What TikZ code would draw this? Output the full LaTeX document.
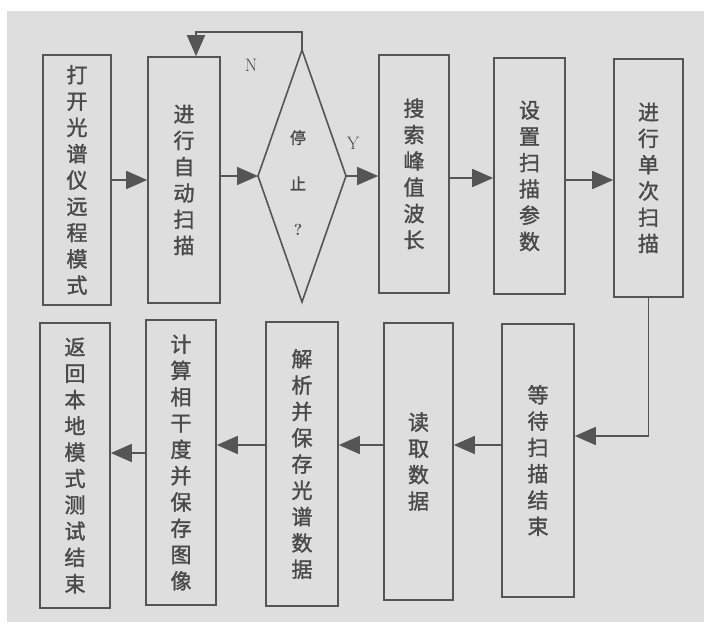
\documentclass[tikz,border=0pt]{standalone}
\usepackage{fontspec}
\newfontfamily\cjk[FakeBold=1.5]{Noto Sans CJK SC}
\usetikzlibrary{arrows.meta,shapes.geometric}
\definecolor{bg}{HTML}{DEDEDE}
\definecolor{ln}{HTML}{555555}
\definecolor{tx}{HTML}{4A4A4A}
\tikzset{
  box/.style={draw=ln, line width=1.6pt, inner sep=0pt, align=center, text=tx,
    font=\cjk\fontsize{21}{26.3}\selectfont},
  dectext/.style={inner sep=0pt, align=center, text=tx, font=\cjk\fontsize{16}{46}\selectfont},
  decline/.style={draw=ln, line width=1.6pt, line join=miter},
  arr/.style={draw=ln, line width=1.6pt, -{Triangle[length=21pt,width=18pt]}},
  lbl/.style={text=tx, font=\fontsize{18}{18}\selectfont, inner sep=0pt}
}
\begin{document}
\begin{tikzpicture}[x=1pt,y=-1pt]
\useasboundingbox (0,0) rectangle (704,622);
\fill[white] (0,0) rectangle (704,622);
\fill[bg] (7,11) rectangle (704,622);
% top row
\node[box, minimum width=68pt, minimum height=250pt] (b1) at (77,180) {打\\开\\光\\谱\\仪\\远\\程\\模\\式};
\node[box, minimum width=72pt, minimum height=246pt] (b2) at (184,180) {进\\行\\自\\动\\扫\\描};
% decision diamond
\coordinate (dT) at (302,50);
\coordinate (dL) at (258,176);
\coordinate (dB) at (302,302);
\coordinate (dR) at (346,176);
\draw[decline] (dT) -- (dR) -- (dB) -- (dL) -- cycle;
\node[dectext] (d) at (298,183) {停\\止\\{\rmfamily\bfseries ?}};
\node[box, minimum width=70pt, minimum height=238pt] (b3) at (414,174) {搜\\索\\峰\\值\\波\\长};
\node[box, minimum width=71pt, minimum height=236pt] (b4) at (529.5,176) {设\\置\\扫\\描\\参\\数};
\node[box, minimum width=69pt, minimum height=238pt] (b5) at (648.5,178) {进\\行\\单\\次\\扫\\描};
% bottom row
\node[box, minimum width=70pt, minimum height=285pt] (b6) at (75,465.5) {返\\回\\本\\地\\模\\式\\测\\试\\结\\束};
\node[box, minimum width=70pt, minimum height=285pt] (b7) at (181,462.5) {计\\算\\相\\干\\度\\并\\保\\存\\图\\像};
\node[box, minimum width=72pt, minimum height=284pt] (b8) at (302,464) {解\\析\\并\\保\\存\\光\\谱\\数\\据};
\node[box, minimum width=69pt, minimum height=277pt] (b9) at (418.5,461.5) {读\\取\\数\\据};
\node[box, minimum width=72pt, minimum height=273pt] (b10) at (538,460.5) {等\\待\\扫\\描\\结\\束};
% labels
\node[lbl] (n) at (251,65) {N};
\node[lbl] (y) at (353,143) {Y};
% connectors top
\draw[arr] (b1.east |- 0,180) -- (b2.west |- 0,180);
\draw[arr] (b2.east |- dL) -- (dL);
\draw[arr] (dR) -- (b3.west |- dR);
\draw[arr] (b3.east |- 0,178) -- (b4.west |- 0,178);
\draw[arr] (b4.east |- 0,180) -- (b5.west |- 0,180);
\coordinate (lp) at (196,32);
\draw[arr] (dT) |- (lp) -- (lp |- b2.north);
% connector down
\draw[arr] (b5.south) |- (b10.east |- 0,436);
% connectors bottom
\draw[arr] (b10.west |- 0,445) -- (b9.east |- 0,445);
\draw[arr] (b9.west |- 0,445) -- (b8.east |- 0,445);
\draw[arr] (b8.west |- 0,445) -- (b7.east |- 0,445);
\draw[arr] (b7.west |- 0,453) -- (b6.east |- 0,453);
\end{tikzpicture}
\end{document}
